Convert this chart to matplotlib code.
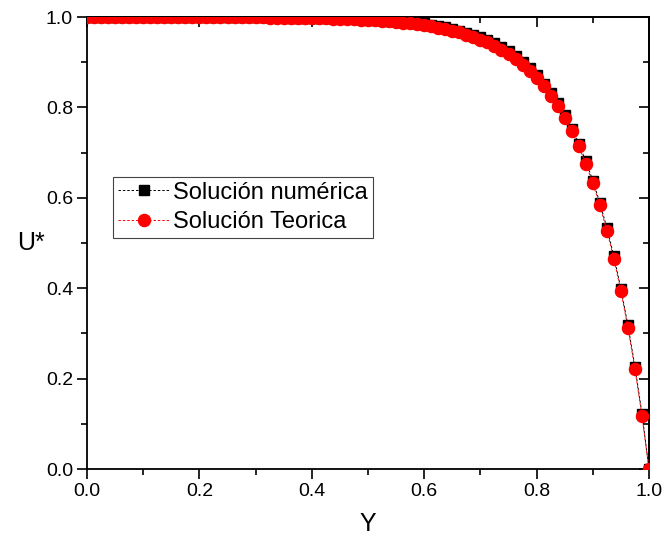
import matplotlib
matplotlib.use("Agg")
import matplotlib.pyplot as plt

plt.rcParams['font.family'] = ['Liberation Sans', 'DejaVu Sans']

Y = [0.0, 0.0125, 0.025, 0.0375, 0.05, 0.0625, 0.075, 0.0875, 0.1, 0.1125,
     0.125, 0.1375, 0.15, 0.1625, 0.175, 0.1875, 0.2, 0.2125, 0.225, 0.2375,
     0.25, 0.2625, 0.275, 0.2875, 0.3, 0.3125, 0.325, 0.3375, 0.35, 0.3625,
     0.375, 0.3875, 0.4, 0.4125, 0.425, 0.4375, 0.45, 0.4625, 0.475, 0.4875,
     0.5, 0.5125, 0.525, 0.5375, 0.55, 0.5625, 0.575, 0.5875, 0.6, 0.6125,
     0.625, 0.6375, 0.65, 0.6625, 0.675, 0.6875, 0.7, 0.7125, 0.725, 0.7375,
     0.75, 0.7625, 0.775, 0.7875, 0.8, 0.8125, 0.825, 0.8375, 0.85, 0.8625,
     0.875, 0.8875, 0.9, 0.9125, 0.925, 0.9375, 0.95, 0.9625, 0.975, 0.9875,
     1.0]

U_teorica = [0.9999, 0.9999, 0.9999, 0.9999, 0.9999, 0.9999, 0.9999, 0.9999, 0.9999, 0.9999,
             0.9998, 0.9998, 0.9998, 0.9998, 0.9997, 0.9997, 0.9997, 0.9996, 0.9996, 0.9995,
             0.9995, 0.9994, 0.9993, 0.9992, 0.9991, 0.9990, 0.9988, 0.9987, 0.9985, 0.9983,
             0.9981, 0.9978, 0.9975, 0.9972, 0.9968, 0.9964, 0.9959, 0.9954, 0.9948, 0.9941,
             0.9933, 0.9924, 0.9913, 0.9902, 0.9889, 0.9874, 0.9857, 0.9838, 0.9817, 0.9793,
             0.9765, 0.9734, 0.9698, 0.9658, 0.9612, 0.9561, 0.9502, 0.9436, 0.9361, 0.9276,
             0.9179, 0.9070, 0.8946, 0.8806, 0.8647, 0.8466, 0.8262, 0.8031, 0.7769, 0.7472,
             0.7135, 0.6753, 0.6321, 0.5831, 0.5276, 0.4647, 0.3935, 0.3127, 0.2212, 0.1175,
             0.0]

U_numerica = [1.0, 1.0, 1.0, 1.0, 1.0, 1.0, 1.0, 1.0, 1.0, 1.0,
              1.0, 1.0, 1.0, 1.0, 1.0, 1.0, 1.0, 1.0, 1.0, 1.0,
              0.9999, 0.9998, 0.9997, 0.9996, 0.9995, 0.9994, 0.9993, 0.9991, 0.9989, 0.9987,
              0.9985, 0.9982, 0.9980, 0.9977, 0.9974, 0.9970, 0.9979, 0.9974, 0.9968, 0.9961,
              0.9953, 0.9944, 0.9933, 0.9922, 0.9909, 0.9894, 0.9897, 0.9878, 0.9857, 0.9833,
              0.9805, 0.9774, 0.9738, 0.9698, 0.9652, 0.9601, 0.9562, 0.9496, 0.9421, 0.9336,
              0.9239, 0.9130, 0.9006, 0.8866, 0.8707, 0.8526, 0.8322, 0.8091, 0.7829, 0.7532,
              0.7195, 0.6813, 0.6381, 0.5891, 0.5336, 0.4707, 0.3985, 0.3177, 0.2262, 0.1225,
              0.0]

x_ticks = [0.0, 0.2, 0.4, 0.6, 0.8, 1.0]
y_ticks = [0.0, 0.2, 0.4, 0.6, 0.8, 1.0]
x_minor = [0.1, 0.3, 0.5, 0.7, 0.9]
y_minor = [0.1, 0.3, 0.5, 0.7, 0.9]

fig = plt.figure(figsize=(6.64, 5.43), dpi=100)
ax = fig.add_axes([87/664, 1 - 469/543, 562/664, 452/543])

ax.plot(Y, U_numerica, color='black', linestyle=(0, (2.5, 2)), linewidth=0.7,
        marker='s', markersize=7.5, markerfacecolor='black', markeredgecolor='black',
        label='Solución numérica', zorder=3)
ax.plot(Y, U_teorica, color='red', linestyle=(0, (2.5, 2)), linewidth=0.7,
        marker='o', markersize=8.7, markerfacecolor='red', markeredgecolor='red',
        label='Solución Teorica', zorder=4)

ax.set_xlim(0, 1)
ax.set_ylim(0, 1)
ax.set_xticks(x_ticks)
ax.set_yticks(y_ticks)
ax.set_xticks(x_minor, minor=True)
ax.set_yticks(y_minor, minor=True)
ax.set_xticklabels([f"{v:.1f}" for v in x_ticks])
ax.set_yticklabels([f"{v:.1f}" for v in y_ticks])
ax.tick_params(which='both', direction='out', width=1.2, labelsize=14,
               top=False, right=False)
ax.tick_params(which='major', length=7)
ax.tick_params(which='minor', length=4)
ax.tick_params(axis='x', pad=3)
ax.tick_params(axis='y', pad=3)

for s in ax.spines.values():
    s.set_linewidth(1.3)

secx = ax.secondary_xaxis('top')
secx.set_xticks(x_ticks)
secx.set_xticks(x_minor, minor=True)
secx.tick_params(which='both', direction='in', width=1.2, labeltop=False)
secx.tick_params(which='major', length=7)
secx.tick_params(which='minor', length=4)
secx.spines['top'].set_linewidth(1.3)

secy = ax.secondary_yaxis('right')
secy.set_yticks(y_ticks)
secy.set_yticks(y_minor, minor=True)
secy.tick_params(which='both', direction='in', width=1.2, labelright=False)
secy.tick_params(which='major', length=7)
secy.tick_params(which='minor', length=4)
secy.spines['right'].set_linewidth(1.3)

ax.set_xlabel('Y', fontsize=18)
ax.xaxis.set_label_coords(0.5, -0.095)
ax.set_ylabel('U*', fontsize=18, rotation=0, va='center', ha='center')
ax.yaxis.set_label_coords(-0.1, 0.5)

leg = ax.legend(loc='upper left', bbox_to_anchor=(0.046, 0.646), borderaxespad=0,
                fontsize=17, numpoints=1, handlelength=2.2, handletextpad=0.15,
                fancybox=False, framealpha=1, edgecolor='#444444',
                borderpad=0.2, labelspacing=0.3)
leg.get_frame().set_linewidth(0.8)

fig.savefig('out.png', dpi=100)
